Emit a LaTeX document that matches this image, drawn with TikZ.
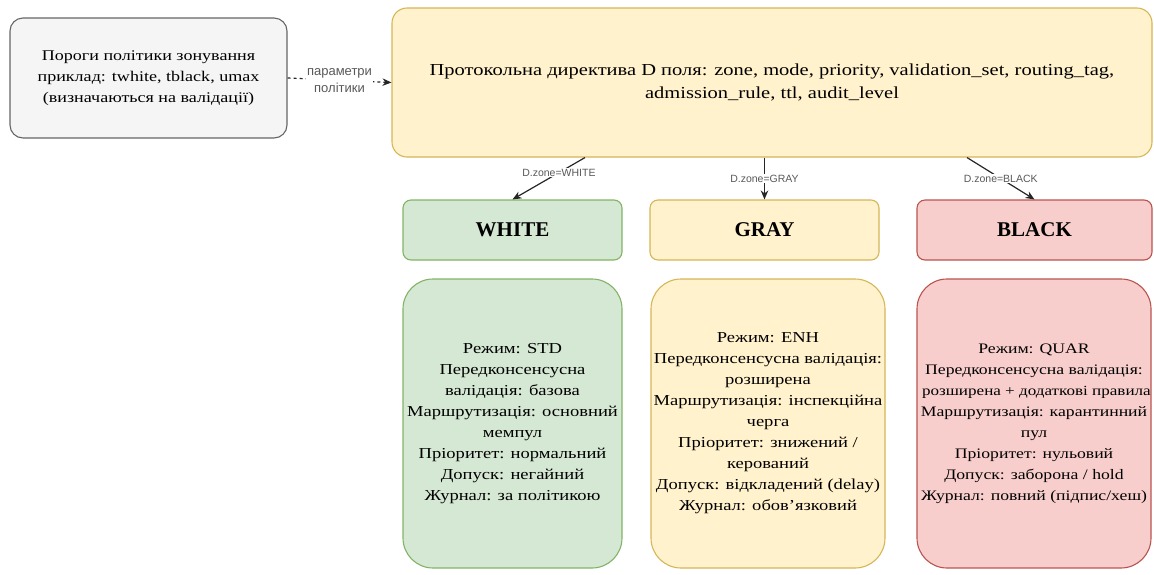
\documentclass[tikz,border=0pt]{standalone}
\usepackage{fontspec}
\setmainfont{Liberation Serif}
\setsansfont{Liberation Sans}
\newfontfamily\wideserif{Liberation Serif}[FakeStretch=1.22]
\usetikzlibrary{arrows.meta,calc}
\definecolor{grayfill}{HTML}{F5F5F5}
\definecolor{grayline}{HTML}{666666}
\definecolor{yelfill}{HTML}{FFF2CC}
\definecolor{yelline}{HTML}{D6B656}
\definecolor{grnfill}{HTML}{D5E8D4}
\definecolor{grnline}{HTML}{82B366}
\definecolor{redfill}{HTML}{F8CECC}
\definecolor{redline}{HTML}{B85450}
\tikzset{
  box/.style={rectangle, line width=1.1pt, align=center, inner sep=2pt},
  policybox/.style={box, draw=grayline, fill=grayfill, rounded corners=13pt,
    font=\wideserif\fontsize{14.8}{21}\selectfont},
  mainbox/.style={box, draw=yelline, fill=yelfill, rounded corners=15pt,
    font=\wideserif\fontsize{16.8}{23}\selectfont},
  zonebox/.style={box, rounded corners=8pt, font=\fontsize{21}{24}\selectfont\bfseries},
  detailbox/.style={box, rounded corners=30pt, font=\wideserif\fontsize{15.2}{21}\selectfont},
  conn/.style={line width=1.2pt, -{Stealth[length=9pt,width=7.5pt]}, draw=black!85},
  elabel/.style={fill=white, inner sep=1pt, font=\sffamily\fontsize{10.5}{12}\selectfont, text=black!65},
  plabel/.style={fill=white, inner sep=1pt, align=center, font=\sffamily\fontsize{13}{17}\selectfont, text=black!65}
}
\begin{document}
\begin{tikzpicture}[x=1pt,y=1pt]
\useasboundingbox (0,0) rectangle (1154,-574);

\node[policybox, minimum width=277pt, minimum height=120pt] (policy) at (148.5,-78)
  {Пороги політики зонування\\приклад: twhite, tblack, umax\\(визначаються на валідації)};

\node[mainbox, minimum width=760pt, minimum height=149pt] (directive) at (772,-82.5)
  {Протокольна директива D поля: zone, mode, priority, validation\_set, routing\_tag,\\admission\_rule, ttl, audit\_level};

\node[zonebox, draw=grnline, fill=grnfill, minimum width=219pt, minimum height=60pt] (white) at (512.5,-230) {WHITE};
\node[zonebox, draw=yelline, fill=yelfill, minimum width=229pt, minimum height=60pt] (gray) at (764.5,-230) {GRAY};
\node[zonebox, draw=redline, fill=redfill, minimum width=235pt, minimum height=60pt] (black) at (1034.5,-230) {BLACK};

\node[detailbox, draw=grnline, fill=grnfill, minimum width=219pt, minimum height=289pt] (whitedet) at (512.5,-423.5)
  {Режим: STD\\Передконсенсусна\\валідація: базова\\Маршрутизація: основний\\мемпул\\Пріоритет: нормальний\\Допуск: негайний\\Журнал: за політикою};

\node[detailbox, draw=yelline, fill=yelfill, minimum width=234pt, minimum height=289pt] (graydet) at (768,-423.5)
  {Режим: ENH\\Передконсенсусна валідація:\\розширена\\Маршрутизація: інспекційна\\черга\\Пріоритет: знижений /\\керований\\Допуск: відкладений (delay)\\Журнал: обов’язковий};

\node[detailbox, draw=redline, fill=redfill, minimum width=234pt, minimum height=289pt,
  font=\wideserif\fontsize{14.5}{21}\selectfont] (blackdet) at (1034,-423.5)
  {Режим: QUAR\\Передконсенсусна валідація:\\\makebox[224pt][l]{\fontsize{14}{21}\selectfont розширена + додаткові правила}\\Маршрутизація: карантинний\\пул\\Пріоритет: нульовий\\Допуск: заборона / hold\\Журнал: повний (підпис/хеш)};

\draw[conn, dashed] (policy.east) -- node[plabel] {параметри\\політики} (directive.west);

\draw[conn] ([xshift=-187pt]directive.south) -- node[elabel, pos=0.36] {D.zone=WHITE} (white.north);
\draw[conn] (gray.north |- directive.south) -- node[elabel, pos=0.5] {D.zone=GRAY} (gray.north);
\draw[conn] ([xshift=195pt]directive.south) -- node[elabel, pos=0.5] {D.zone=BLACK} (black.north);
\end{tikzpicture}
\end{document}
